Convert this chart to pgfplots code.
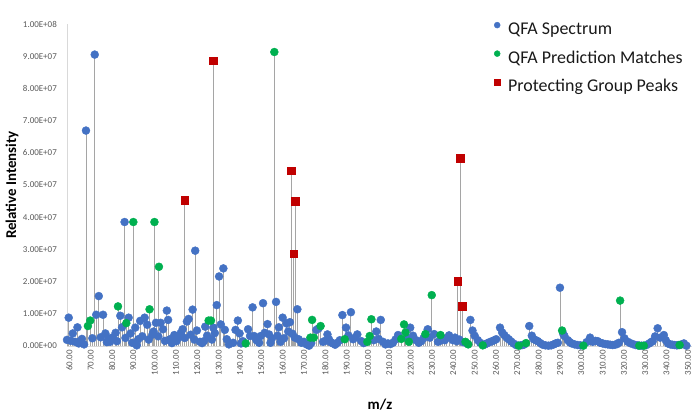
\documentclass[border=0pt]{standalone}
\usepackage{pgfplots}
\usepackage{pgfplotstable}
\pgfplotsset{compat=1.18}
\usepackage{fontspec}
\setmainfont{Carlito}

\definecolor{qblue}{HTML}{4472C4}
\definecolor{qgreen}{HTML}{00B050}
\definecolor{pgred}{HTML}{C00000}
\definecolor{stemgray}{HTML}{A5A5A5}
\definecolor{axisgray}{HTML}{D9D9D9}
\definecolor{ticktext}{HTML}{595959}

% small single marker in the legend
\pgfplotsset{
  smallmark/.style={legend image code/.code={\draw[##1, mark size=#1] plot coordinates {(0bp,5bp)};}}
}

% intensities in units of 10^6
\pgfplotstableread{
mz int
58.9 1.9
59.7 8.8
60.7 1.6
61.6 3.9
62.7 1.3
63.8 5.8
64.4 0.8
65.0 1.5
65.9 2.2
66.9 0.5
67.8 66.9
70.8 2.4
71.9 90.5
72.6 9.7
73.8 15.5
74.7 2.7
75.8 9.7
76.9 3.9
77.6 1.2
78.3 2.4
79.1 1.3
80.3 2.7
81.7 4.1
82.3 1.5
83.9 9.4
84.7 5.8
85.9 38.5
86.3 2.5
87.8 8.8
88.7 3.9
89.5 1.0
90.9 5.7
91.6 0.2
92.3 2.1
93.2 7.8
94.2 3.0
95.3 8.8
96.5 6.6
97.2 2.0
98.9 3.5
99.5 4.5
100.6 7.2
101.7 3.0
102.8 7.2
103.9 5.2
104.8 1.6
105.7 11.0
106.3 8.1
107.2 2.1
108.1 0.9
109.2 3.4
110.2 1.5
111.3 2.7
112.2 4.0
113.1 5.2
114.1 2.5
115.1 7.6
115.9 8.4
116.9 3.5
117.8 11.3
118.6 2.0
119.0 29.6
119.8 4.8
121.2 1.3
122.2 0.9
123.1 1.5
123.7 6.0
124.6 3.2
126.8 2.0
127.5 5.7
128.2 4.0
129.1 12.7
130.2 21.6
131.0 6.7
132.2 24.1
132.9 5.0
133.8 2.1
134.8 0.5
136.8 1.0
137.9 5.0
139.0 7.9
139.8 3.9
140.5 0.8
141.3 1.5
143.8 5.2
144.7 3.1
145.9 12.0
146.6 3.1
147.7 1.8
148.3 2.2
149.0 1.0
149.7 3.1
150.8 13.3
151.6 4.1
152.9 6.8
153.6 3.6
154.3 1.0
155.0 2.4
156.9 13.7
157.6 3.2
158.2 5.8
159.0 1.3
160.0 8.8
160.7 2.4
161.8 7.0
162.6 4.5
163.4 7.4
164.6 3.8
165.7 2.6
166.9 11.4
167.5 2.1
168.8 1.0
170.0 1.3
171.2 0.5
172.4 0.1
173.4 0.9
175.8 5.0
176.9 5.5
178.9 1.3
180.0 1.6
181.0 3.6
181.7 2.1
182.5 1.2
183.6 0.8
184.6 0.4
185.7 1.0
186.8 1.8
188.0 9.6
189.7 5.7
190.8 3.3
192.0 10.5
193.0 2.1
194.0 2.6
195.0 3.6
196.9 1.5
198.0 0.9
202.7 1.8
203.9 4.5
205.0 2.2
206.0 8.1
207.0 1.3
208.2 0.5
209.4 0.8
210.5 0.6
211.7 1.0
212.9 2.0
214.1 3.4
218.5 2.5
219.8 5.7
221.1 3.2
222.6 1.8
223.8 1.0
225.0 1.5
226.0 2.4
228.0 5.2
229.0 2.6
231.0 3.7
232.8 1.3
233.8 1.6
235.0 2.2
236.0 1.8
237.0 2.5
238.0 3.3
239.8 1.8
240.8 2.6
241.6 1.5
242.8 2.0
244.6 1.2
246.4 0.8
248.0 8.1
249.0 4.8
250.0 3.2
251.5 1.8
252.6 1.0
254.8 0.5
255.7 0.8
257.0 1.2
258.2 1.5
259.2 1.8
260.1 2.1
261.9 5.7
262.9 4.2
263.9 3.4
265.0 2.6
266.0 2.1
267.1 1.4
268.2 0.8
269.4 0.3
271.6 0.2
272.5 0.3
273.3 0.5
275.6 6.2
276.8 3.2
277.7 2.1
278.7 1.8
279.6 1.5
280.8 0.9
281.9 0.4
283.2 0.2
284.6 0.1
285.9 0.2
287.1 0.5
288.0 0.8
289.0 1.0
290.0 18.1
291.5 3.8
292.1 3.1
293.7 1.8
294.6 1.2
295.5 0.8
296.9 0.5
298.3 0.3
299.6 0.2
302.5 1.2
304.1 2.6
305.4 1.3
306.6 1.6
307.7 1.5
308.9 1.0
310.0 0.8
311.2 0.6
312.4 0.5
313.5 0.4
314.7 0.3
315.8 0.4
316.8 0.6
317.6 1.0
319.1 4.3
320.2 2.4
321.8 1.3
322.9 0.9
324.1 0.6
325.4 0.3
326.5 0.2
328.3 0.1
330.5 0.3
331.9 0.8
332.7 1.2
333.5 1.5
334.6 3.0
335.8 5.5
337.0 2.6
338.7 3.4
339.6 1.8
340.6 0.8
341.7 0.5
342.7 0.4
343.7 0.3
344.8 0.2
345.5 0.3
347.0 0.5
348.1 0.8
349.3 0.1
}\spectrum

\pgfplotstableread{
mz int
68.7 6.2
69.8 7.9
82.8 12.3
86.7 7.1
90.0 38.5
97.6 11.4
99.9 38.5
102.0 24.6
125.3 7.9
126.4 7.9
142.7 0.8
156.1 91.3
173.0 2.6
173.8 8.1
174.6 2.6
177.8 6.2
189.1 2.1
199.7 1.3
200.8 3.1
201.6 8.3
215.6 2.2
216.9 6.7
217.6 4.2
219.2 1.3
226.9 3.7
229.9 15.8
234.0 3.4
245.7 1.3
247.0 0.5
253.8 0.2
270.7 0.1
274.1 0.9
291.0 4.8
301.0 0.1
318.2 14.1
327.2 0.1
329.3 0.1
346.1 0.3
}\matches

\pgfplotstableread{
mz int
114.0 45.3
127.4 88.6
164.1 54.5
165.2 28.7
166.0 44.9
242.0 20.1
243.2 58.4
244.1 12.4
}\protecting

\begin{document}
\begin{tikzpicture}
\begin{axis}[
  at={(0,0)}, anchor=south west,
  scale only axis, width=625bp, height=322bp,
  xmin=58.9, xmax=351.9, ymin=0, ymax=100,
  clip=false,
  axis lines=left,
  axis line style={draw=axisgray, line width=0.8bp, -},
  major tick length=0pt,
  xtick={60,70,...,350},
  xticklabels={60.00,70.00,80.00,90.00,100.00,110.00,120.00,130.00,140.00,150.00,160.00,170.00,180.00,190.00,200.00,210.00,220.00,230.00,240.00,250.00,260.00,270.00,280.00,290.00,300.00,310.00,320.00,330.00,340.00,350.00},
  ytick={0,10,...,100},
  yticklabels={0.00E+00,1.00E+07,2.00E+07,3.00E+07,4.00E+07,5.00E+07,6.00E+07,7.00E+07,8.00E+07,9.00E+07,1.00E+08},
  xticklabel style={rotate=90, anchor=east, inner sep=0pt, font=\fontsize{9}{11}\selectfont, text=ticktext},
  yticklabel style={anchor=east, inner sep=0pt, font=\fontsize{9}{11}\selectfont, text=ticktext},
  xticklabel shift=4bp,
  yticklabel shift=10bp,
  legend style={at={(rel axis cs:0.6832,1.008)}, anchor=north west,
    draw=none, fill=none, inner sep=0pt,
    font=\fontsize{18}{21}\selectfont, text=black!90,
    row sep=11.5bp, column sep=8bp,
    nodes={inner sep=0pt, text height=13bp, text depth=4bp}},
  legend cell align=left,
]
% drop lines from the baseline to each peak
\addplot[ycomb, draw=stemgray, line width=0.9bp, forget plot] table[x=mz,y=int]{\spectrum};
\addplot[ycomb, draw=stemgray, line width=0.9bp, forget plot] table[x=mz,y=int]{\matches};
\addplot[ycomb, draw=stemgray, line width=0.9bp, forget plot] table[x=mz,y=int]{\protecting};

\addplot[only marks, mark=*, mark size=4bp, mark options={draw=qblue, fill=qblue}, smallmark=3bp]
  table[x=mz,y=int]{\spectrum};
\addlegendentry{QFA Spectrum}
\addplot[only marks, mark=*, mark size=4bp, mark options={draw=qgreen, fill=qgreen}, smallmark=3bp]
  table[x=mz,y=int]{\matches};
\addlegendentry{QFA Prediction Matches}
\addplot[only marks, mark=square*, mark size=3.8bp, mark options={draw=pgred, fill=pgred}, smallmark=2.8bp]
  table[x=mz,y=int]{\protecting};
\addlegendentry{Protecting Group Peaks}
\end{axis}
\node[rotate=90, font=\bfseries\fontsize{15}{18}\selectfont] at (-55bp,161bp) {Relative Intensity};
\node[font=\bfseries\fontsize{15}{18}\selectfont] at (313bp,-59bp) {m/z};
\path[use as bounding box] (-67bp,-69bp) rectangle (633bp,346bp);
\end{tikzpicture}
\end{document}
